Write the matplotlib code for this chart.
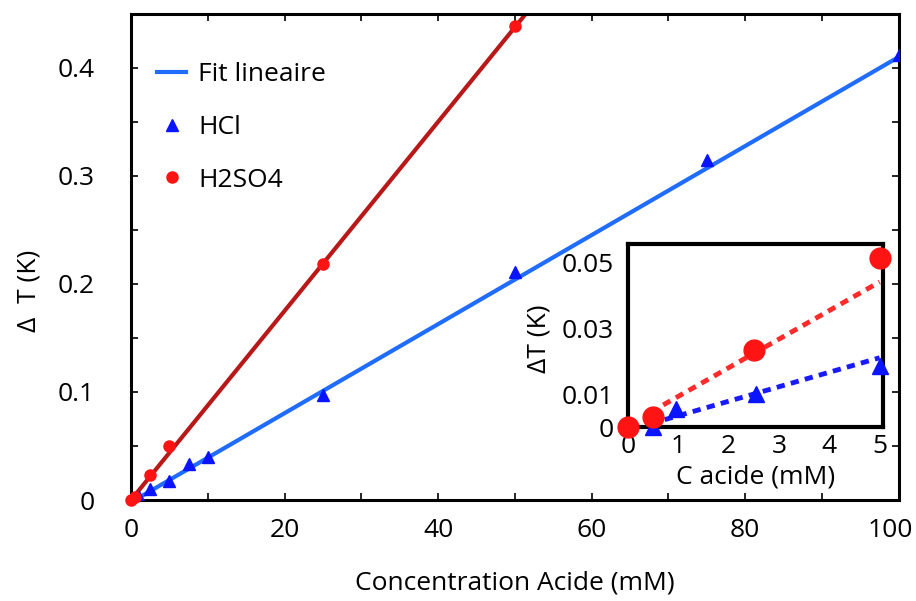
import matplotlib.pyplot as plt
from matplotlib import transforms

plt.rcParams['font.family'] = ['Open Sans', 'DejaVu Sans']

# main plot data
hcl_x = [0.5, 1, 2.5, 5, 7.5, 10, 25, 50, 75, 100]
hcl_y = [0.0, 0.003, 0.010, 0.018, 0.033, 0.040, 0.097, 0.211, 0.315, 0.412]
h2so4_x = [0, 0.5, 2.5, 5, 25, 50]
h2so4_y = [0.0, 0.003, 0.023, 0.050, 0.218, 0.439]

# fit lines (end points)
hcl_fit_x = [0.5, 100]
hcl_fit_y = [0.0, 0.410]
h2so4_fit_x = [0, 60]
h2so4_fit_y = [0.0, 0.525]

# inset data
in_hcl_x = [0.5, 0.95, 2.55, 5]
in_hcl_y = [0.0, 0.0055, 0.0100, 0.0185]
in_h2so4_x = [0, 0.5, 2.5, 5]
in_h2so4_y = [0.0, 0.003, 0.0233, 0.0513]
in_hcl_fit_x = [0.45, 5]
in_hcl_fit_y = [0.001, 0.021]
in_h2so4_fit_x = [0.7, 5]
in_h2so4_fit_y = [0.0067, 0.0440]

blue_line = '#1f6cff'
red_line = '#b81818'
blue_mark = '#0a14ff'
red_mark = '#ff1414'
fs = 19

fig = plt.figure(figsize=(9.16, 6.01), dpi=100)
ax = fig.add_axes([0.143, 0.168, 0.838, 0.809])

ax.plot(h2so4_fit_x, h2so4_fit_y, color=red_line, lw=3, zorder=2)
ax.plot(hcl_fit_x, hcl_fit_y, color=blue_line, lw=3, zorder=2,
        label='Fit lineaire')
ax.plot(hcl_x, hcl_y, ls='none', marker='^', ms=9, color=blue_mark,
        label='HCl', zorder=3)
ax.plot(h2so4_x, h2so4_y, ls='none', marker='o', ms=8, color=red_mark,
        label='H2SO4', zorder=3, clip_on=False)

ax.set_xlim(0, 100)
ax.set_ylim(0, 0.45)
ax.set_xticks([0, 20, 40, 60, 80, 100])
ax.set_xticks(range(0, 101, 10), minor=True)
ax.set_yticks([0, 0.1, 0.2, 0.3, 0.4])
ax.set_yticks([0.05, 0.15, 0.25, 0.35, 0.45], minor=True)
ax.set_yticklabels(['0', '0.1', '0.2', '0.3', '0.4'])
ax.tick_params(which='both', direction='in', top=True, right=True,
               length=5, width=1.2, labelsize=fs)
ax.tick_params(axis='x', pad=13)
ax.tick_params(axis='y', pad=26)
for s in ax.spines.values():
    s.set_linewidth(2.2)

# last x label sits a bit left of its tick so it stays in the picture
lab100 = ax.get_xticklabels()[-1]
lab100.set_transform(lab100.get_transform() +
                     transforms.ScaledTranslation(-0.08, 0, fig.dpi_scale_trans))

ax.set_xlabel('Concentration Acide (mM)', fontsize=fs, labelpad=20)
ax.set_ylabel('Δ  T (K)', fontsize=fs)
ax.yaxis.set_label_coords(-0.117, 0.43)

ax.legend(loc='upper left', bbox_to_anchor=(0.0, 0.955), frameon=False,
          fontsize=fs, labelspacing=1.05, handlelength=1.1,
          handletextpad=0.45, borderaxespad=0.6)

# inset
ins = fig.add_axes([0.6856, 0.2895, 0.278, 0.3045])
ins.plot(in_h2so4_fit_x, in_h2so4_fit_y, color='#ff2a2a', lw=3.5,
         ls=(0, (1.7, 1.3)), zorder=2)
ins.plot(in_hcl_fit_x, in_hcl_fit_y, color='#1a1aff', lw=3.5,
         ls=(0, (1.7, 1.3)), zorder=2)
ins.plot(in_hcl_x, in_hcl_y, ls='none', marker='^', ms=12, color=blue_mark,
         clip_on=False, zorder=4)
ins.plot(in_h2so4_x, in_h2so4_y, ls='none', marker='o', ms=15,
         color=red_mark, clip_on=False, zorder=5)
ins.set_xlim(0.04, 5.06)
ins.set_ylim(0.0009, 0.0555)
ins.set_xticks([0, 1, 2, 3, 4, 5])
ins.set_yticks([0, 0.01, 0.03, 0.05])
ins.set_yticklabels(['0', '0.01', '0.03', '0.05'])
ins.tick_params(length=0, labelsize=fs)
ins.tick_params(axis='x', pad=5)
ins.tick_params(axis='y', pad=10)
for s in ins.spines.values():
    s.set_linewidth(3)
ins.set_xlabel('C acide (mM)', fontsize=fs, labelpad=4)
ins.set_ylabel('ΔT (K)', fontsize=fs)
ins.yaxis.set_label_coords(-0.30, 0.48)

fig.savefig('out.png', dpi=100)
